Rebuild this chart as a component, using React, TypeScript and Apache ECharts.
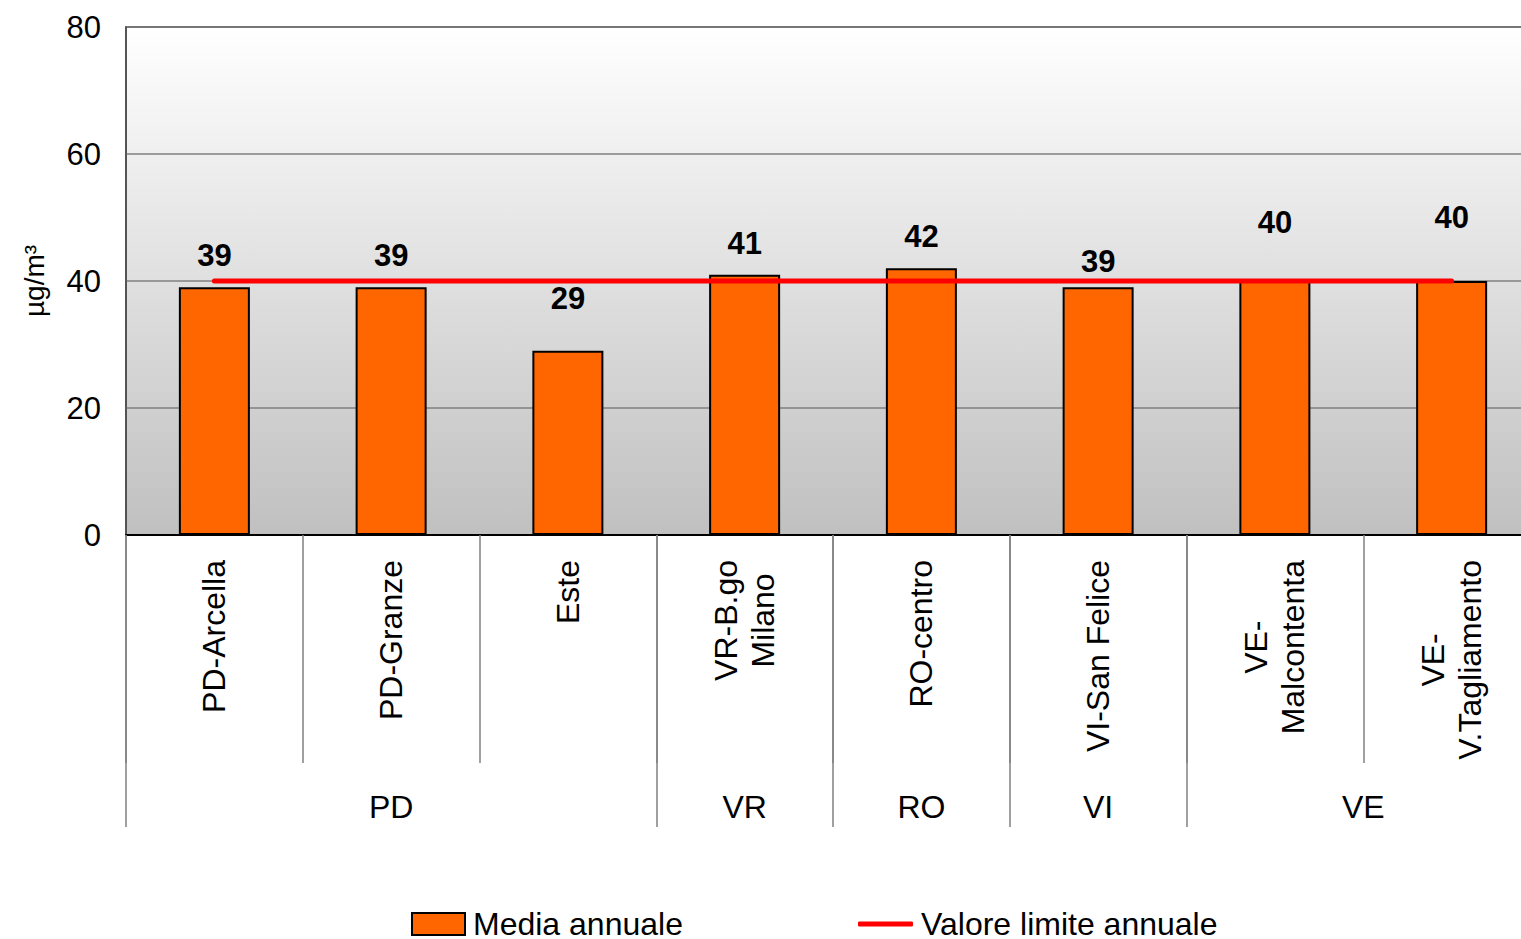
import React, { useEffect, useRef } from "react";
import * as echarts from "echarts";

const stations = [
  "PD-Arcella",
  "PD-Granze",
  "Este",
  "VR-B.go\nMilano",
  "RO-centro",
  "VI-San Felice",
  "VE-\nMalcontenta",
  "VE-\nV.Tagliamento",
];
const annualMean = [39, 39, 29, 41, 42, 39, 40, 40];
const limitValue = [40, 40, 40, 40, 40, 40, 40, 40];
const groupNames = ["PD", "VR", "RO", "VI", "VE"];
const groupSizes = [3, 1, 1, 1, 2];
const yTicks = [0, 20, 40, 60, 80];
// label distances above bars (styling only)
const labelDistances = [16, 16, 37, 16, 16, 10, 43, 48];

const FONT = "'Liberation Sans', Arial, sans-serif";

export default function App() {
  const ref = useRef<HTMLDivElement>(null);
  useEffect(() => {
    document.body.style.margin = "0";
    const chart = echarts.init(ref.current!, undefined, { renderer: "svg" });

    const boundaries: number[] = [0];
    const centers: number[] = [];
    let acc = 0;
    groupSizes.forEach((s) => {
      centers.push(acc + s / 2);
      acc += s;
      boundaries.push(acc);
    });

    const option: any = {
      animation: false,
      textStyle: { fontFamily: FONT },
      grid: {
        left: 126,
        top: 27,
        right: 0,
        bottom: 404,
        show: true,
        borderColor: "#222",
        borderWidth: 1.5,
        backgroundColor: new echarts.graphic.LinearGradient(0, 0, 0, 1, [
          { offset: 0, color: "#ffffff" },
          { offset: 1, color: "#c0c0c0" },
        ]),
      },
      legend: [
        {
          left: 411,
          top: 908,
          padding: 0,
          itemWidth: 53,
          itemHeight: 22,
          textStyle: { fontSize: 32, color: "#000", fontFamily: FONT, padding: [0, 0, 0, 3] },
          data: [
            {
              name: "Media annuale",
              icon: "rect",
              itemStyle: { color: "#FF6600", borderColor: "#000", borderWidth: 2 },
            },
          ],
        },
        {
          left: 858,
          top: 908,
          padding: 0,
          itemWidth: 55,
          itemHeight: 5,
          textStyle: { fontSize: 32, color: "#000", fontFamily: FONT, padding: [0, 0, 0, 3] },
          data: [{ name: "Valore limite annuale", icon: "roundRect" }],
        },
      ],
      xAxis: [
        {
          type: "category",
          data: stations,
          boundaryGap: true,
          axisLine: { show: true, lineStyle: { color: "#000", width: 2 } },
          axisTick: {
            show: true,
            interval: 0,
            length: 228,
            lineStyle: { color: "#808080", width: 1.5 },
          },
          axisLabel: {
            interval: 0,
            rotate: 90,
            margin: 25,
            fontSize: 32,
            color: "#000",
            fontFamily: FONT,
            formatter: (v: string) =>
              v
                .split("\n")
                .map((l) => `{c|${l}}`)
                .join("\n"),
            rich: {
              c: { align: "center", fontSize: 32, fontFamily: FONT, color: "#000", lineHeight: 37 },
            },
          },
        },
        {
          type: "value",
          position: "bottom",
          min: 0,
          max: boundaries[boundaries.length - 1],
          axisLine: { show: false },
          splitLine: { show: false },
          axisTick: {
            show: true,
            customValues: boundaries,
            length: 292,
            lineStyle: { color: "#808080", width: 1.5 },
          },
          axisLabel: {
            customValues: centers,
            margin: 256,
            fontSize: 32,
            color: "#000",
            fontFamily: FONT,
            formatter: (v: number) => {
              const i = centers.indexOf(v);
              return i >= 0 ? groupNames[i] : "";
            },
          },
        },
      ],
      yAxis: {
        type: "value",
        min: yTicks[0],
        max: yTicks[yTicks.length - 1],
        interval: 20,
        name: "µg/m³",
        nameLocation: "middle",
        nameGap: 78,
        nameTextStyle: { fontSize: 28, color: "#000", fontFamily: FONT },
        axisLine: { show: true, lineStyle: { color: "#555", width: 1.5 } },
        axisTick: { show: false },
        axisLabel: { fontSize: 31, color: "#000", margin: 25, fontFamily: FONT },
        splitLine: { show: true, lineStyle: { color: "#808080", width: 1.5 } },
      },
      series: [
        {
          name: "Media annuale",
          type: "bar",
          xAxisIndex: 0,
          barWidth: 71,
          data: annualMean.map((v, i) => ({
            value: v,
            label: { distance: labelDistances[i] },
          })),
          itemStyle: { color: "#FF6600", borderColor: "#000", borderWidth: 2 },
          label: {
            show: true,
            position: "top",
            fontSize: 31,
            fontWeight: "bold",
            color: "#000",
            fontFamily: FONT,
          },
        },
        {
          name: "Valore limite annuale",
          type: "line",
          xAxisIndex: 0,
          data: limitValue,
          symbol: "none",
          z: 5,
          lineStyle: { color: "#FF0000", width: 5, cap: "round" },
          itemStyle: { color: "#FF0000" },
        },
      ],
    };
    chart.setOption(option);
    return () => chart.dispose();
  }, []);
  return (
    <div style={{ width: 1521, height: 939, overflow: "hidden", position: "relative" }}>
      <div ref={ref} style={{ width: 1540, height: 939 }} />
    </div>
  );
}
